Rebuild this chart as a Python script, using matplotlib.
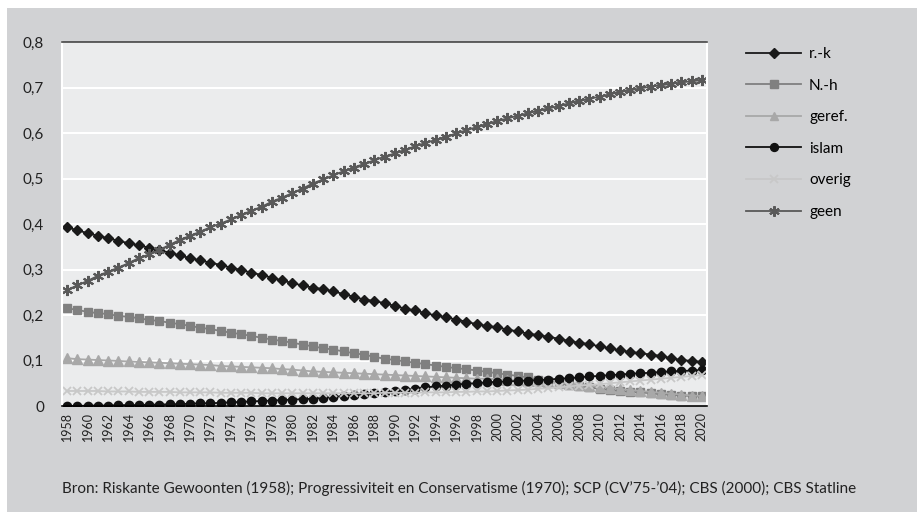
import matplotlib
matplotlib.use('Agg')
import matplotlib.pyplot as plt
from matplotlib.patches import Rectangle

plt.rcParams['font.family'] = ['Lato', 'DejaVu Sans']

# jaren 1958 - 2020
years = list(range(1958, 2021))

r_k = [0.393, 0.386, 0.380, 0.374, 0.369, 0.363, 0.358, 0.353, 0.348, 0.343,
       0.337, 0.331, 0.325, 0.320, 0.315, 0.310, 0.304, 0.299, 0.293, 0.288,
       0.282, 0.276, 0.270, 0.265, 0.260,
       0.257, 0.252, 0.246, 0.240, 0.234, 0.231, 0.226, 0.220, 0.214, 0.210,
       0.204, 0.199, 0.195, 0.190, 0.185, 0.180, 0.176, 0.173,
       0.168, 0.164, 0.159, 0.156, 0.152, 0.148, 0.143, 0.139, 0.136, 0.131,
       0.127, 0.122, 0.119, 0.116, 0.113, 0.110, 0.105, 0.101, 0.099, 0.097]

n_h = [0.215, 0.211, 0.207, 0.204, 0.202, 0.198, 0.196, 0.193, 0.189, 0.187,
       0.183, 0.180, 0.176, 0.172, 0.169, 0.165, 0.161, 0.158, 0.154, 0.150,
       0.146, 0.143, 0.139, 0.135, 0.131,
       0.127, 0.124, 0.120, 0.116, 0.113, 0.108, 0.104, 0.101, 0.098, 0.095,
       0.092, 0.089, 0.086, 0.083, 0.081, 0.078, 0.075, 0.072,
       0.069, 0.066, 0.063, 0.058, 0.054, 0.050, 0.047, 0.044, 0.041, 0.038,
       0.035, 0.033, 0.031, 0.030, 0.028, 0.026, 0.025, 0.023, 0.022, 0.021]

geref = [0.105, 0.103, 0.102, 0.101, 0.100, 0.099, 0.098, 0.097, 0.096, 0.095,
         0.094, 0.093, 0.092, 0.091, 0.090, 0.088, 0.087, 0.086, 0.085, 0.084,
         0.083, 0.081, 0.080, 0.078, 0.076,
         0.075, 0.074, 0.073, 0.072, 0.071, 0.070, 0.069, 0.068, 0.067, 0.066,
         0.065, 0.064, 0.063, 0.062, 0.061, 0.060, 0.060, 0.059,
         0.058, 0.057, 0.056, 0.055, 0.053, 0.051, 0.049, 0.047, 0.045, 0.042,
         0.040, 0.037, 0.035, 0.033, 0.031, 0.029, 0.027, 0.025, 0.023, 0.022]

islam = [0.000, 0.000, 0.001, 0.001, 0.001, 0.002, 0.002, 0.002, 0.003, 0.003,
         0.004, 0.004, 0.005, 0.006, 0.006, 0.007, 0.008, 0.009, 0.010, 0.011,
         0.012, 0.013, 0.014, 0.015, 0.016,
         0.018, 0.020, 0.022, 0.024, 0.026, 0.028, 0.030, 0.032, 0.035, 0.038,
         0.041, 0.043, 0.045, 0.047, 0.049, 0.050, 0.052, 0.053,
         0.054, 0.055, 0.056, 0.057, 0.058, 0.060, 0.061, 0.063, 0.065, 0.066,
         0.068, 0.069, 0.071, 0.072, 0.073, 0.075, 0.076, 0.077, 0.078, 0.079]

overig = [0.033, 0.033, 0.033, 0.033, 0.032, 0.032, 0.032, 0.031, 0.031, 0.031,
          0.031, 0.030, 0.030, 0.030, 0.030, 0.029, 0.029, 0.029, 0.029, 0.028,
          0.028, 0.028, 0.028, 0.028, 0.028,
          0.028, 0.028, 0.028, 0.028, 0.028, 0.028, 0.029, 0.029, 0.029, 0.029,
          0.030, 0.030, 0.030, 0.031, 0.031, 0.032, 0.032, 0.033,
          0.034, 0.035, 0.036, 0.038, 0.039, 0.041, 0.043, 0.045, 0.046, 0.048,
          0.050, 0.052, 0.054, 0.056, 0.058, 0.060, 0.062, 0.064, 0.066, 0.068]

geen = [0.255, 0.265, 0.275, 0.286, 0.295, 0.304, 0.314, 0.325, 0.333, 0.343,
        0.354, 0.365, 0.374, 0.383, 0.393, 0.401, 0.410, 0.420, 0.429, 0.438,
        0.449, 0.458, 0.468, 0.478, 0.489,
        0.498, 0.507, 0.516, 0.524, 0.532, 0.540, 0.548, 0.555, 0.563, 0.571,
        0.578, 0.585, 0.592, 0.599, 0.606, 0.613, 0.620, 0.626,
        0.632, 0.638, 0.643, 0.649, 0.654, 0.659, 0.665, 0.670, 0.675, 0.680,
        0.685, 0.690, 0.694, 0.698, 0.702, 0.705, 0.708, 0.711, 0.714, 0.716]

y_ticks = [0, 0.1, 0.2, 0.3, 0.4, 0.5, 0.6, 0.7, 0.8]
y_labels = ['0', '0,1', '0,2', '0,3', '0,4', '0,5', '0,6', '0,7', '0,8']

source = "Bron: Riskante Gewoonten (1958); Progressiviteit en Conservatisme (1970); SCP (CV\u201975-\u201904); CBS (2000); CBS Statline"

fig = plt.figure(figsize=(9.17, 5.12), dpi=100)
fig.patch.set_facecolor('white')
# grijs kader met witte rand links/boven
fig.patches.append(Rectangle((7 / 917, 0), 1, 504 / 512, transform=fig.transFigure,
                             facecolor='#d1d2d4', edgecolor='none', zorder=-5))

ax = fig.add_axes([62 / 917, 106 / 512, 645 / 917, 364 / 512])
ax.set_zorder(2)
ax.set_facecolor('#ebeced')

ax.plot(years, r_k, color='#1a1a1a', lw=1.3, marker='D', ms=5.5, label='r.-k')
ax.plot(years, n_h, color='#808080', lw=1.3, marker='s', ms=6, label='N.-h')
ax.plot(years, geref, color='#a8a8a8', lw=1.3, marker='^', ms=6.5, label='geref.')
ax.plot(years, islam, color='#111111', lw=1.3, marker='o', ms=6, label='islam')
ax.plot(years, overig, color='#c8c8c8', lw=1.3, marker='x', ms=6, mew=1.3, label='overig')
ax.plot(years, geen, color='#595959', lw=1.3, marker=(6, 2, 0), ms=8, mew=1.5, label='geen')

ax.set_xlim(1957.5, 2020.5)
ax.set_ylim(0, 0.8)
ax.set_yticks(y_ticks)
ax.set_yticklabels(y_labels, fontsize=11, color='#222222')
ax.set_xticks(years[::2])
ax.set_xticklabels([str(y) for y in years[::2]], rotation=90, fontsize=9, color='#222222')
ax.tick_params(length=0)
ax.tick_params(axis='y', pad=13)
ax.tick_params(axis='x', pad=4)
ax.grid(axis='y', color='white', lw=1.5)
ax.set_axisbelow(True)
for side in ['left', 'right']:
    ax.spines[side].set_color('white')
    ax.spines[side].set_linewidth(1.5)
ax.spines['top'].set_color('#444444')
ax.spines['top'].set_linewidth(1.2)
ax.spines['bottom'].set_color('black')
ax.spines['bottom'].set_linewidth(1.2)

fig.legend(loc='upper left', bbox_to_anchor=(0.799, 0.935), frameon=False,
           fontsize=11, labelspacing=1.15, handlelength=3.6, handletextpad=0.5,
           markerscale=0.95)

fig.text(62 / 917, 24 / 512, source, fontsize=11, color='#222222', va='center')

fig.savefig('out.png', dpi=100)
